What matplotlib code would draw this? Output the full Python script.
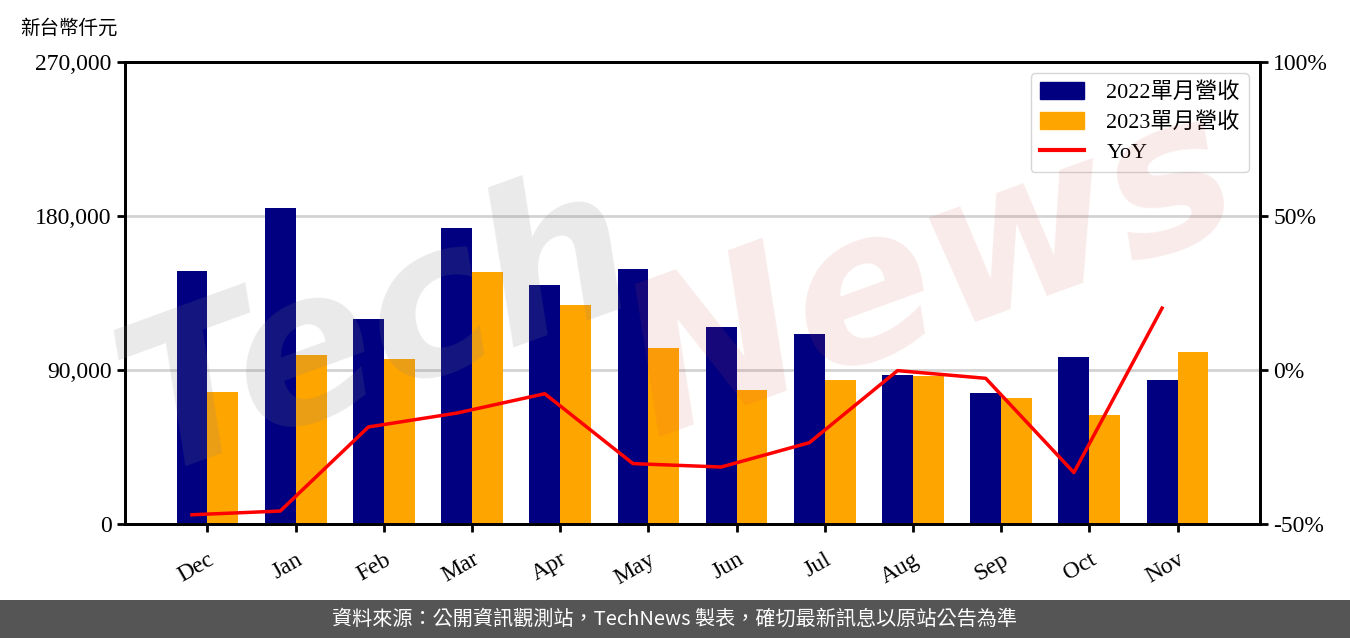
import matplotlib
matplotlib.use('Agg')
import matplotlib.pyplot as plt
from matplotlib.patches import Patch, Rectangle
from matplotlib.lines import Line2D
from matplotlib.ticker import FuncFormatter
import numpy as np

plt.rcParams['font.family'] = ['Liberation Serif', 'Noto Sans CJK TC']

months = ['Dec', 'Jan', 'Feb', 'Mar', 'Apr', 'May', 'Jun', 'Jul', 'Aug', 'Sep', 'Oct', 'Nov']
rev_2022 = [147900, 184700, 119800, 173000, 139700, 149000, 115100, 111000, 87100, 76600, 97600, 84200]
rev_2023 = [77100, 98800, 96400, 147300, 128000, 102900, 78300, 84200, 86500, 73600, 63700, 100500]
yoy = [-47.0, -45.8, -18.5, -14.0, -7.7, -30.4, -31.5, -23.6, -0.2, -2.7, -33.3, 20.1]

navy = '#000080'
orange = '#FFA500'

fig = plt.figure(figsize=(13.5, 6.38), dpi=100)
ax = fig.add_axes([0.0926, 0.1787, 0.8407, 0.7241])
x = np.arange(len(months))
w = 0.35

ax.bar(x - w / 2, rev_2022, w, color=navy, zorder=2)
ax.bar(x + w / 2, rev_2023, w, color=orange, zorder=2)
ax.set_ylim(0, 270000)
ax.set_yticks([0, 90000, 180000, 270000])
ax.yaxis.set_major_formatter(FuncFormatter(lambda v, p: f'{int(v):,}'))
ax.grid(axis='y', color='#d3d3d3', linewidth=2, zorder=0)
ax.set_axisbelow(True)
ax.set_xticks(x)
ax.set_xticklabels(months, rotation=30, ha='right', rotation_mode='anchor')
ax.tick_params(axis='both', labelsize=17, width=2, length=6)
ax.tick_params(axis='x', pad=12)

ax2 = ax.twinx()
ax2.plot(x - w / 2, yoy, color='red', linewidth=2.5)
ax2.set_ylim(-50, 100)
ax2.set_yticks([-50, 0, 50, 100])
ax2.yaxis.set_major_formatter(FuncFormatter(lambda v, p: f'{int(v)}%'))
ax2.tick_params(axis='y', labelsize=17, width=2, length=6)

for a in (ax, ax2):
    for s in a.spines.values():
        s.set_linewidth(2)

handles = [Patch(color=navy), Patch(color=orange), Line2D([0], [0], color='red', linewidth=3)]
ax2.legend(handles, ['2022單月營收', '2023單月營收', 'YoY'], loc='upper right',
           fontsize=16, frameon=True, edgecolor='#cccccc', handlelength=2.0,
           handleheight=0.8, labelspacing=0.4, borderpad=0.4, handletextpad=1.0)

fig.text(0.015, 0.955, '新台幣仟元', fontsize=14, va='center', ha='left')

# watermark
fig.text(0.28, 0.48, 'Tech', fontsize=150, family='DejaVu Sans', style='italic', weight='bold',
         color='#808080', alpha=0.17, rotation=20, ha='center', va='center', zorder=10)
fig.text(0.69, 0.57, 'News', fontsize=150, family='DejaVu Sans', style='italic', weight='bold',
         color='#d04848', alpha=0.11, rotation=20, ha='center', va='center', zorder=10)

# footer
fig.patches.append(Rectangle((0, 0), 1, 38 / 638, transform=fig.transFigure,
                             facecolor='#555555', edgecolor='none', zorder=0))
fig.text(0.5, 19 / 638, '資料來源：公開資訊觀測站，TechNews 製表，確切最新訊息以原站公告為準',
         color='white', fontsize=14.5, ha='center', va='center',
         family=['Noto Sans CJK TC', 'DejaVu Sans'])

fig.savefig('out.png', dpi=100)
